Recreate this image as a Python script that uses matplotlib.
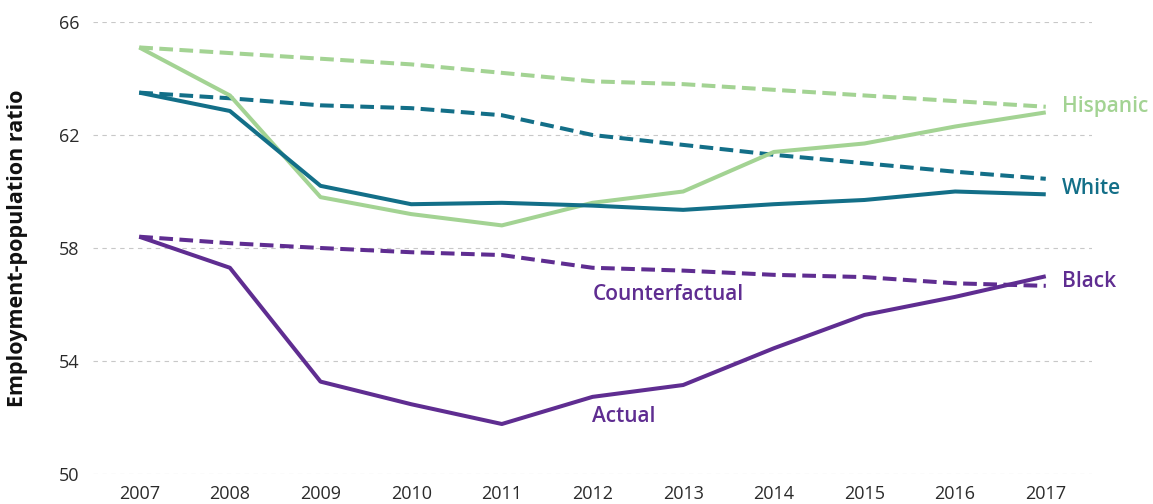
import matplotlib
matplotlib.use("Agg")
import matplotlib.pyplot as plt

years = [2007, 2008, 2009, 2010, 2011, 2012, 2013, 2014, 2015, 2016, 2017]

hispanic_actual = [65.1, 63.4, 59.8, 59.2, 58.8, 59.6, 60.0, 61.4, 61.7, 62.3, 62.8]
hispanic_cf = [65.1, 64.9, 64.7, 64.5, 64.2, 63.9, 63.8, 63.6, 63.4, 63.2, 63.0]
white_actual = [63.5, 62.85, 60.2, 59.55, 59.6, 59.5, 59.35, 59.55, 59.7, 60.0, 59.9]
white_cf = [63.5, 63.3, 63.05, 62.95, 62.7, 62.0, 61.65, 61.3, 61.0, 60.7, 60.45]
black_actual = [58.4, 57.3, 53.27, 52.47, 51.77, 52.73, 53.15, 54.45, 55.63, 56.27, 57.0]
black_cf = [58.4, 58.17, 58.0, 57.85, 57.75, 57.3, 57.2, 57.05, 56.97, 56.75, 56.66]

yticks = [50, 54, 58, 62, 66]

C_HISP = "#a3d393"
C_WHITE = "#136f88"
C_BLACK = "#5f2d91"

plt.rcParams['font.family'] = ['Open Sans', 'DejaVu Sans']

fig = plt.figure(figsize=(11.53, 5.04), dpi=100)
ax = fig.add_axes([93/1153, 1-474/504, (1092-93)/1153, (474-22)/504])

lw = 2.9
dash = (0, (3.4, 1.6))
for actual, cf, c in [(hispanic_actual, hispanic_cf, C_HISP),
                      (white_actual, white_cf, C_WHITE),
                      (black_actual, black_cf, C_BLACK)]:
    ax.plot(years, cf, color=c, lw=lw, linestyle=dash, clip_on=False, zorder=3)
    ax.plot(years, actual, color=c, lw=lw, solid_capstyle='butt', clip_on=False, zorder=4)

ax.set_xlim(2006.49, 2017.51)
ax.set_ylim(50, 66)
ax.set_xticks(years)
ax.set_yticks(yticks)
ax.tick_params(axis='both', length=0, labelsize=13, colors='#2a2a2a')
ax.tick_params(axis='x', pad=8)
ax.tick_params(axis='y', pad=10)
ax.grid(axis='y', color='#c8c8c8', linestyle=(0, (4, 4)), lw=0.8)
ax.grid(axis='x', visible=False)
for s in ax.spines.values():
    s.set_visible(False)

ax.set_ylabel("Employment-population ratio", fontsize=15.5, fontweight='bold', color='#111111')
ax.yaxis.set_label_coords(-65/999, 0.5)

lab_kw = dict(fontsize=15, fontweight='semibold', va='center', ha='left', clip_on=False)
ax.text(2017.18, 63.0, "Hispanic", color=C_HISP, **lab_kw)
ax.text(2017.18, 60.09, "White", color=C_WHITE, **lab_kw)
ax.text(2017.18, 56.8, "Black", color=C_BLACK, **lab_kw)
ax.text(2012, 56.37, "Counterfactual", color=C_BLACK, **lab_kw)
ax.text(2012, 52.05, "Actual", color=C_BLACK, **lab_kw)

fig.savefig("out.png", dpi=100)
